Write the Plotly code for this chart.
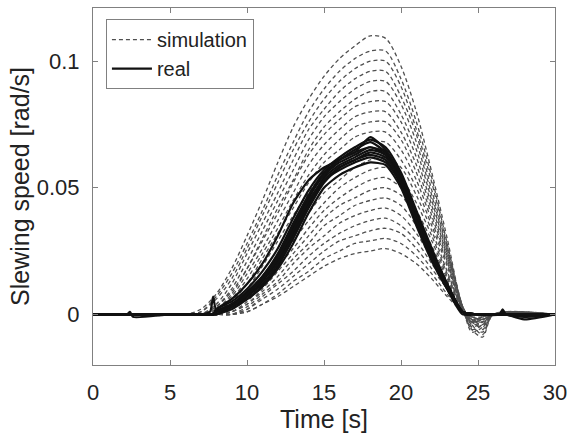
import plotly.graph_objects as go

# time grids [s]
sim_time = [0, 6, 7, 8, 9, 10, 11, 12, 13, 14, 15, 16, 17, 18, 19, 20, 21, 22, 23, 24, 24.6, 25.3, 26, 30]
real_time = [0, 2.2, 2.4, 2.6, 5, 7, 7.6, 7.8, 8, 9, 10, 11, 12, 13, 14, 15, 16, 17, 18, 19, 20, 21, 22, 23, 24, 25, 26.4, 26.6, 26.8, 28, 30]

# simulated slewing speed [rad/s], one row per run
sim_speed = [
    [0, 0, 0.002, 0.008, 0.018, 0.031, 0.045, 0.060, 0.074, 0.085, 0.094, 0.101, 0.106, 0.110, 0.109, 0.098, 0.080, 0.056, 0.030, 0.003, -0.003, -0.001, 0, 0],
    [0, 0, 0.001, 0.007, 0.016, 0.028, 0.041, 0.055, 0.068, 0.080, 0.089, 0.096, 0.101, 0.104, 0.104, 0.093, 0.076, 0.054, 0.028, 0.003, -0.005, -0.003, 0, 0],
    [0, 0, 0.001, 0.006, 0.014, 0.026, 0.039, 0.052, 0.065, 0.076, 0.085, 0.092, 0.097, 0.100, 0.100, 0.090, 0.073, 0.052, 0.027, 0.003, -0.002, -0.006, 0, 0],
    [0, 0, 0, 0.004, 0.012, 0.024, 0.036, 0.048, 0.061, 0.073, 0.081, 0.088, 0.093, 0.096, 0.096, 0.086, 0.071, 0.049, 0.026, 0.003, -0.006, -0.004, 0, 0],
    [0, 0, 0, 0.003, 0.010, 0.021, 0.033, 0.045, 0.057, 0.069, 0.078, 0.084, 0.089, 0.092, 0.092, 0.083, 0.068, 0.047, 0.025, 0.003, -0.004, -0.008, 0, 0],
    [0, 0, 0, 0.002, 0.008, 0.018, 0.030, 0.042, 0.053, 0.065, 0.074, 0.080, 0.085, 0.088, 0.088, 0.079, 0.065, 0.045, 0.024, 0.003, -0.003, -0.002, 0, 0],
    [0, 0, 0, 0.003, 0.009, 0.018, 0.029, 0.040, 0.052, 0.063, 0.071, 0.077, 0.082, 0.084, 0.084, 0.076, 0.062, 0.043, 0.023, 0.003, -0.007, -0.005, 0, 0],
    [0, 0, 0, 0.002, 0.007, 0.016, 0.026, 0.037, 0.048, 0.059, 0.067, 0.073, 0.078, 0.080, 0.080, 0.072, 0.059, 0.041, 0.022, 0.002, -0.002, -0.003, 0, 0],
    [0, 0, 0, 0.001, 0.006, 0.014, 0.024, 0.034, 0.045, 0.055, 0.063, 0.069, 0.074, 0.076, 0.076, 0.069, 0.056, 0.039, 0.021, 0.002, -0.005, -0.007, 0, 0],
    [0, 0, 0, 0.001, 0.005, 0.012, 0.022, 0.032, 0.042, 0.052, 0.060, 0.065, 0.070, 0.072, 0.072, 0.065, 0.053, 0.037, 0.020, 0.002, -0.003, -0.002, 0, 0],
    [0, 0, 0, 0, 0.003, 0.010, 0.019, 0.029, 0.039, 0.048, 0.056, 0.062, 0.066, 0.068, 0.068, 0.061, 0.050, 0.035, 0.019, 0.002, -0.006, -0.009, 0, 0],
    [0, 0, 0, 0, 0.002, 0.007, 0.015, 0.023, 0.032, 0.040, 0.048, 0.053, 0.058, 0.061, 0.062, 0.058, 0.047, 0.033, 0.017, 0.002, -0.002, -0.004, 0, 0],
    [0, 0, 0, 0, 0.002, 0.006, 0.013, 0.021, 0.029, 0.037, 0.044, 0.050, 0.054, 0.057, 0.058, 0.054, 0.044, 0.031, 0.016, 0.002, -0.004, -0.003, 0, 0],
    [0, 0, 0, 0, 0.001, 0.005, 0.012, 0.019, 0.026, 0.034, 0.041, 0.046, 0.050, 0.053, 0.054, 0.050, 0.041, 0.029, 0.015, 0.002, -0.003, -0.005, 0, 0],
    [0, 0, 0, 0, 0.001, 0.004, 0.010, 0.017, 0.024, 0.031, 0.038, 0.043, 0.046, 0.049, 0.050, 0.047, 0.038, 0.027, 0.014, 0.002, -0.001, -0.002, 0, 0],
    [0, 0, 0, 0, 0.001, 0.004, 0.009, 0.015, 0.022, 0.028, 0.035, 0.039, 0.043, 0.045, 0.046, 0.043, 0.035, 0.024, 0.013, 0.001, -0.002, -0.003, 0, 0],
    [0, 0, 0, 0, 0, 0.003, 0.008, 0.013, 0.020, 0.026, 0.031, 0.036, 0.039, 0.041, 0.042, 0.039, 0.032, 0.022, 0.012, 0.001, -0.003, -0.001, 0, 0],
    [0, 0, 0, 0, 0, 0.002, 0.007, 0.012, 0.017, 0.023, 0.028, 0.032, 0.035, 0.037, 0.038, 0.035, 0.029, 0.020, 0.011, 0.001, -0.001, -0.002, 0, 0],
    [0, 0, 0, 0, 0, 0.002, 0.006, 0.010, 0.015, 0.020, 0.025, 0.029, 0.031, 0.033, 0.034, 0.032, 0.026, 0.018, 0.010, 0.001, -0.002, -0.001, 0, 0],
    [0, 0, 0, 0, 0, 0.001, 0.004, 0.008, 0.013, 0.017, 0.022, 0.025, 0.028, 0.029, 0.030, 0.028, 0.023, 0.016, 0.008, 0.001, -0.001, -0.002, 0, 0],
    [0, 0, 0, 0, 0, 0.001, 0.004, 0.007, 0.011, 0.015, 0.019, 0.022, 0.024, 0.025, 0.026, 0.024, 0.020, 0.014, 0.007, 0.001, -0.001, -0.001, 0, 0],
]

# measured slewing speed [rad/s]
real_speed = [
    [0, 0, 0.001, -0.001, 0, 0, 0.001, 0.007, 0.002, 0.004, 0.008, 0.014, 0.022, 0.034, 0.046, 0.055, 0.060, 0.063, 0.066, 0.063, 0.053, 0.038, 0.024, 0.011, 0.001, 0, 0, 0.002, 0, -0.001, 0],
    [0, 0, 0, 0, 0, 0, 0, 0, 0.002, 0.005, 0.010, 0.017, 0.026, 0.038, 0.049, 0.057, 0.062, 0.066, 0.069, 0.066, 0.056, 0.041, 0.026, 0.012, 0.001, 0, 0, 0.001, 0, 0, 0],
    [0, 0, 0, 0, 0, 0, 0, 0, 0, 0.003, 0.006, 0.011, 0.019, 0.030, 0.042, 0.052, 0.058, 0.061, 0.063, 0.061, 0.051, 0.036, 0.022, 0.010, 0.001, 0, 0, 0, 0, -0.002, 0],
    [0, 0, 0, 0, 0, 0, 0, 0, 0.002, 0.006, 0.012, 0.020, 0.031, 0.044, 0.053, 0.058, 0.061, 0.064, 0.066, 0.064, 0.055, 0.040, 0.025, 0.012, 0.001, 0, 0, 0, 0, 0, 0],
    [0, 0, 0, 0, 0, 0, 0, 0, 0.001, 0.004, 0.009, 0.015, 0.024, 0.036, 0.047, 0.056, 0.061, 0.065, 0.068, 0.064, 0.054, 0.039, 0.025, 0.012, 0.001, 0, 0, 0, 0, 0, 0],
    [0, 0, 0, 0, 0, 0, 0, 0, 0.001, 0.003, 0.007, 0.013, 0.021, 0.032, 0.044, 0.054, 0.059, 0.062, 0.065, 0.063, 0.052, 0.037, 0.023, 0.010, 0.000, 0, 0, 0, 0, 0, 0],
    [0, 0, 0, 0, 0, 0, 0, 0, 0.001, 0.004, 0.008, 0.015, 0.023, 0.035, 0.047, 0.055, 0.061, 0.064, 0.070, 0.065, 0.055, 0.039, 0.024, 0.011, 0.001, 0, 0, 0, 0, 0, 0],
    [0, 0, 0, 0, 0, 0, 0, 0, 0.000, 0.003, 0.007, 0.012, 0.020, 0.031, 0.043, 0.053, 0.058, 0.061, 0.064, 0.062, 0.053, 0.037, 0.023, 0.011, 0.001, 0, 0, 0, 0, 0, 0],
    [0, 0, 0, 0, 0, 0, 0, 0, 0.000, 0.002, 0.006, 0.011, 0.018, 0.028, 0.040, 0.050, 0.055, 0.058, 0.060, 0.059, 0.050, 0.035, 0.021, 0.010, 0.001, 0, 0, 0, 0, 0, 0],
    [0, 0, 0, 0, 0, 0, 0, 0, 0.001, 0.003, 0.008, 0.014, 0.022, 0.033, 0.045, 0.053, 0.057, 0.060, 0.062, 0.060, 0.052, 0.037, 0.023, 0.011, 0.001, 0, 0, 0, 0, 0, 0],
]

x_ticks = [0, 5, 10, 15, 20, 25, 30]
y_ticks = [0, 0.05, 0.1]
y_ticktext = ['0', '0.05', '0.1']

fig = go.Figure()

for i, y in enumerate(sim_speed):
    fig.add_trace(go.Scatter(
        x=sim_time, y=y, mode='lines', name='simulation',
        showlegend=(i == 0),
        line=dict(color='#4f4f4f', width=1.3, dash='4px,3px', shape='spline', smoothing=0.8),
    ))

for i, y in enumerate(real_speed):
    fig.add_trace(go.Scatter(
        x=real_time, y=y, mode='lines', name='real',
        showlegend=(i == 0),
        line=dict(color='#111111', width=2.2, shape='spline', smoothing=0.6),
    ))

axis_common = dict(
    showline=True, linecolor='#808080', linewidth=1, mirror='ticks',
    ticks='inside', ticklen=5, tickcolor='#808080',
    showgrid=False, zeroline=False,
    tickfont=dict(family='Liberation Sans, Arial', size=22, color='#222222'),
)

fig.update_xaxes(range=[0, 30], tickvals=x_ticks, ticklabelstandoff=8,
                 title=dict(text='Time [s]', font=dict(family='Liberation Sans, Arial', size=25, color='#222222'),
                            standoff=3),
                 **axis_common)
fig.update_yaxes(range=[-0.02, 0.121], tickvals=y_ticks, ticktext=y_ticktext, ticklabelstandoff=8,
                 title=dict(text='Slewing speed [rad/s]', font=dict(family='Liberation Sans, Arial', size=25, color='#222222'),
                            standoff=0),
                 **axis_common)

fig.update_layout(
    width=568, height=439,
    margin=dict(l=93, r=13, t=8, b=74, autoexpand=False),
    plot_bgcolor='white', paper_bgcolor='white',
    legend=dict(x=0.028, y=0.969, xanchor='left', yanchor='top',
                bgcolor='white', bordercolor='#808080', borderwidth=1,
                font=dict(family='Liberation Sans, Arial', size=20, color='#222222'),
                tracegroupgap=0, itemwidth=40),
)

fig.write_html("out.html", config={'displayModeBar': False},
               post_script="document.body.style.margin='0';")
